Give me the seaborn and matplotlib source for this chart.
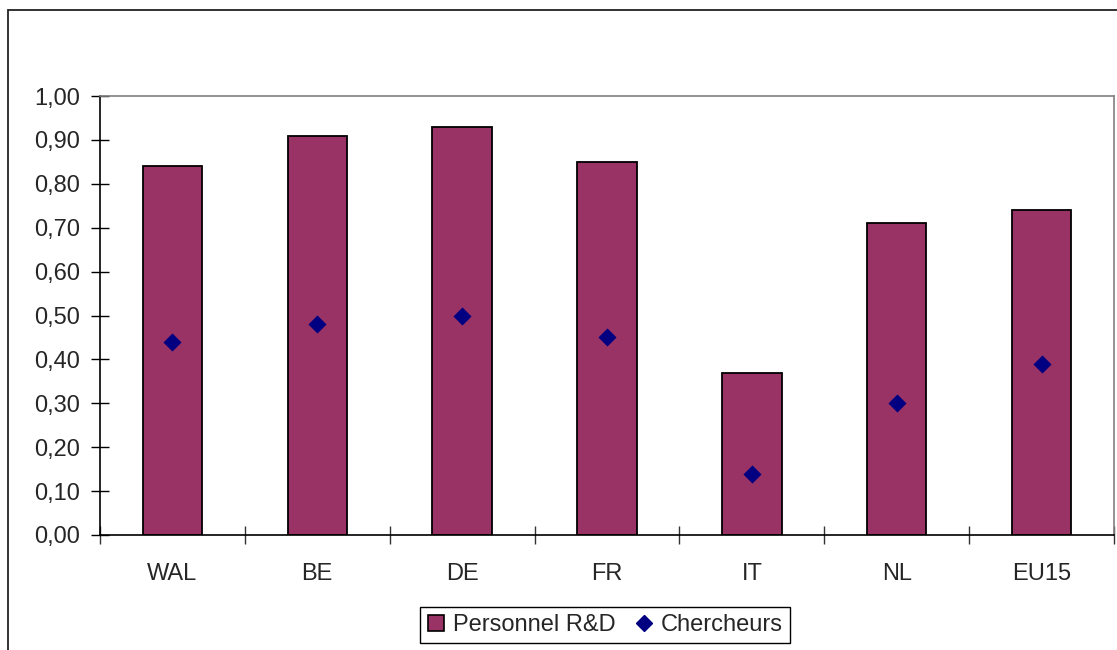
import matplotlib
matplotlib.use("Agg")
import matplotlib.pyplot as plt
from matplotlib.patches import Rectangle
from matplotlib.lines import Line2D
from matplotlib.ticker import FuncFormatter, FixedLocator
import numpy as np
import pandas as pd
import seaborn as sns

# Intensité R&D par pays
countries = ["WAL", "BE", "DE", "FR", "IT", "NL", "EU15"]
personnel_rd = [0.84, 0.91, 0.93, 0.85, 0.37, 0.71, 0.74]
chercheurs = [0.44, 0.48, 0.50, 0.45, 0.14, 0.30, 0.39]

BAR_COLOR = "#993366"
MARKER_COLOR = "#000080"
FONT_SIZE = 17

sns.set_style("white")
plt.rcParams["font.family"] = ["Liberation Sans", "DejaVu Sans"]

df = pd.DataFrame({"pays": countries, "personnel": personnel_rd, "chercheurs": chercheurs})

fig = plt.figure(figsize=(11.17, 6.5), dpi=100)
ax = fig.add_axes([100 / 1117, 115 / 650, 1014 / 1117, 439 / 650])

sns.barplot(data=df, x="pays", y="personnel", color=BAR_COLOR, saturation=1,
            width=0.41, edgecolor="black", linewidth=1.3, ax=ax)
sns.scatterplot(data=df, x="pays", y="chercheurs", marker="D", s=85,
                color=MARKER_COLOR, edgecolor=MARKER_COLOR, linewidth=0, ax=ax, zorder=5)

ax.set_xlim(-0.5, len(countries) - 0.5)
ax.set_ylim(0, 1.0)
ax.set_xlabel("")
ax.set_ylabel("")

ax.yaxis.set_major_locator(FixedLocator(np.arange(0, 1.001, 0.1)))
ax.yaxis.set_major_formatter(FuncFormatter(lambda v, _: f"{v:.2f}".replace(".", ",")))
ax.tick_params(axis="y", which="major", direction="inout", length=13, width=1,
               color="black", labelsize=FONT_SIZE, pad=8, left=True)

# category labels centred, tick marks between categories
ax.tick_params(axis="x", which="major", length=0, labelsize=FONT_SIZE, pad=20)
ax.xaxis.set_minor_locator(FixedLocator(np.arange(-0.5, len(countries), 1.0)))
ax.tick_params(axis="x", which="minor", direction="inout", length=13, width=1,
               color="#333333", bottom=True)

for side in ("left", "bottom"):
    ax.spines[side].set_color("black")
    ax.spines[side].set_linewidth(1.2)
for side in ("top", "right"):
    ax.spines[side].set_color("#808080")
    ax.spines[side].set_linewidth(1.2)

# outer chart frame
fig.patches.append(Rectangle((8 / 1117, -0.05), 1.2, (650 - 10) / 650 + 0.05,
                             transform=fig.transFigure, fill=False,
                             edgecolor="#222222", linewidth=1.3, zorder=0))

handles = [
    Line2D([], [], marker="s", linestyle="none", markersize=12,
           markerfacecolor=BAR_COLOR, markeredgecolor="black", markeredgewidth=1.2),
    Line2D([], [], marker="D", linestyle="none", markersize=8,
           markerfacecolor=MARKER_COLOR, markeredgecolor=MARKER_COLOR),
]
leg = fig.legend(handles, ["Personnel R&D", "Chercheurs"], loc="center",
                 bbox_to_anchor=(605 / 1117, 1 - 625 / 650), ncol=2,
                 fontsize=FONT_SIZE, frameon=True, fancybox=False, framealpha=1,
                 edgecolor="black", handlelength=0.75, handletextpad=0.35,
                 columnspacing=0.8, borderpad=0.3)
leg.get_frame().set_linewidth(1.0)

fig.savefig("out.png", dpi=100, facecolor="white")
